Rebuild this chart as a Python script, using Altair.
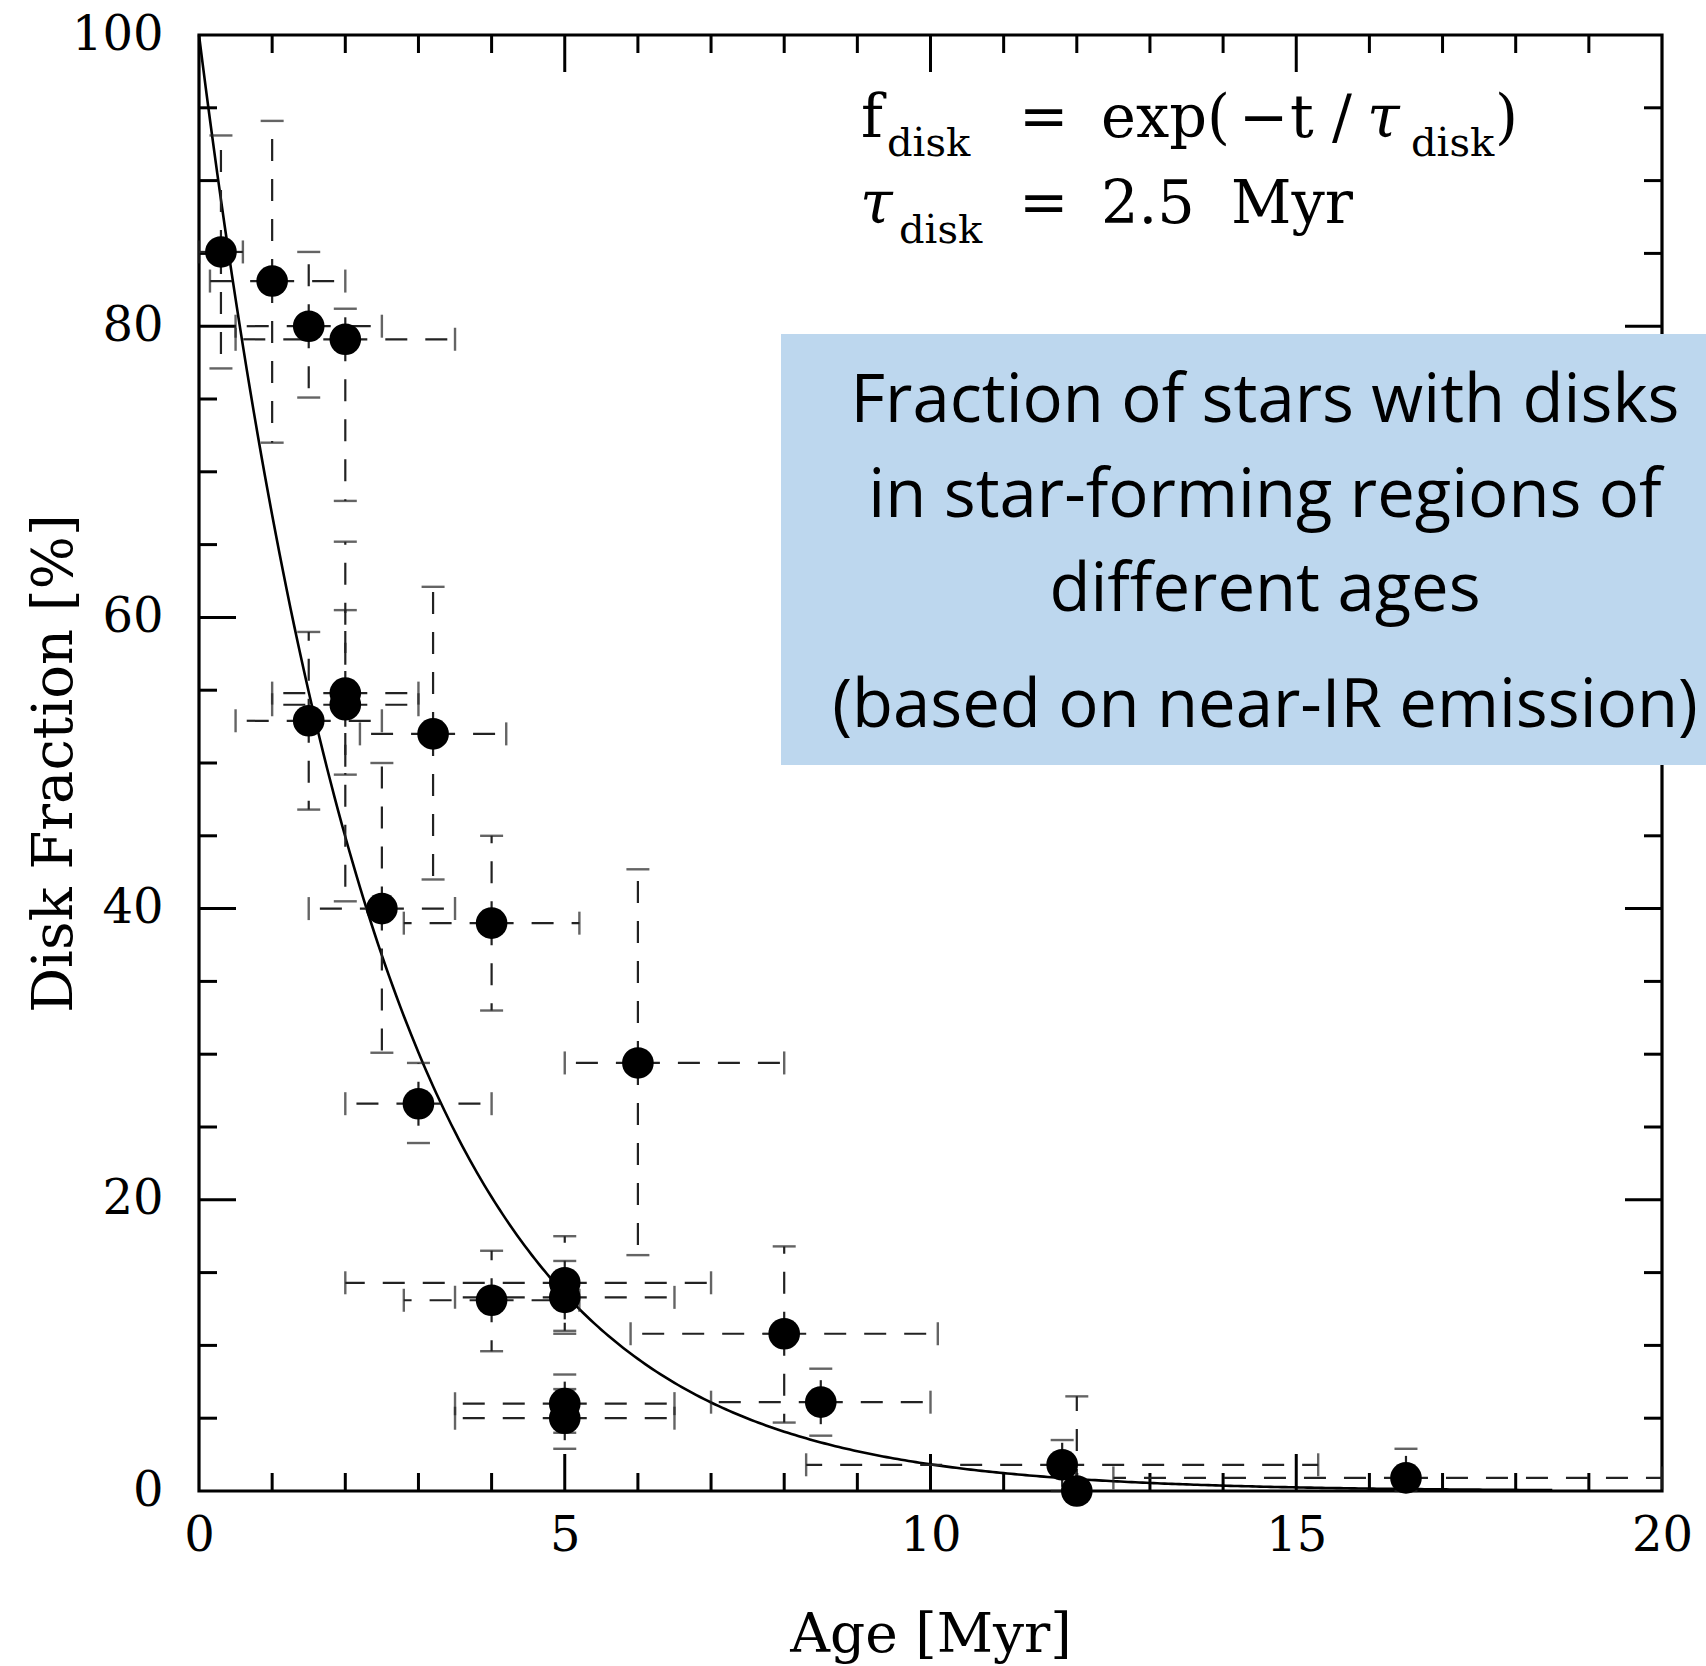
import altair as alt
import pandas as pd

# ---------------- data ----------------
ages    = [0.3, 1.0, 1.5, 2.0, 1.5, 2.0, 2.0, 3.2, 2.5, 4.0, 6.0, 3.0, 4.0, 5.0, 5.0, 8.0, 8.5, 5.0, 5.0, 11.8, 12.0, 16.5]
fracs   = [85.1, 83.1, 80.0, 79.1, 52.9, 54.8, 54.0, 52.0, 40.0, 39.0, 29.4, 26.6, 13.1, 14.3, 13.3, 10.8, 6.1, 6.0, 5.0, 1.8, 0.0, 0.9]
age_lo  = [0.0, 0.15, 0.5, 0.5, 0.5, 1.0, 1.0, 2.2, 1.5, 2.8, 5.0, 2.0, 2.8, 2.0, 3.5, 5.9, 7.0, 3.5, 3.5, 8.3, 12.0, 12.5]
age_hi  = [0.6, 2.0, 2.5, 3.5, 2.5, 3.0, 3.0, 4.2, 3.5, 5.2, 8.0, 4.0, 5.2, 7.0, 6.5, 10.1, 10.0, 6.5, 6.5, 15.3, 12.0, 20.0]
frac_lo = [77.1, 72.0, 75.1, 68.0, 46.8, 49.2, 40.5, 42.0, 30.1, 33.0, 16.2, 23.9, 9.6, 11.0, 10.8, 4.7, 3.8, 4.0, 2.9, 0.0, 0.0, 0.0]
frac_hi = [93.1, 94.1, 85.1, 81.2, 59.0, 60.5, 65.2, 62.1, 50.0, 45.0, 42.7, 29.4, 16.5, 17.5, 15.8, 16.8, 8.4, 8.0, 7.0, 3.5, 6.5, 2.9]

TAU_DISK = 2.5          # Myr, model f = 100 exp(-t/tau)
CURVE_END = 18.5        # Myr

x_labels = [0, 5, 10, 15, 20]
y_labels = [0, 20, 40, 60, 80, 100]
x_minor = [1, 2, 3, 4, 6, 7, 8, 9, 11, 12, 13, 14, 16, 17, 18, 19]
x_major = [5, 10, 15]
y_minor = [5, 10, 15, 25, 30, 35, 45, 50, 55, 65, 70, 75, 85, 90, 95]
y_major = [20, 40, 60, 80]

BOX_LINES = ["Fraction of stars with disks",
             "in star-forming regions of",
             "different ages",
             "(based on near-IR emission)"]

# ---------------- layout ----------------
W, H = 1463, 1456
SERIF = "DejaVu Serif"
SANS = "Open Sans"

df = pd.DataFrame(dict(age=ages, frac=fracs, age_lo=age_lo, age_hi=age_hi,
                       frac_lo=frac_lo, frac_hi=frac_hi))

xs = alt.Scale(domain=[0, 20], nice=False, zero=False)
ys = alt.Scale(domain=[0, 100], nice=False, zero=False)

xaxis = alt.Axis(values=x_labels, ticks=False, tickSize=0, domain=False, grid=False,
                 labelFont=SERIF, labelFontSize=48, labelColor="black", labelPadding=21,
                 labelFlush=False, labelOverlap=False,
                 titleFont=SERIF, titleFontSize=55, titleFontWeight="normal", titleColor="black",
                 titleY=160, titleBaseline="alphabetic")
yaxis = alt.Axis(values=y_labels, ticks=False, tickSize=0, domain=False, grid=False,
                 labelFont=SERIF, labelFontSize=48, labelColor="black", labelPadding=36,
                 labelFlush=False, labelOverlap=False,
                 titleFont=SERIF, titleFontSize=56, titleFontWeight="normal", titleColor="black",
                 titleAngle=270, titleX=-128, titleY=H / 2, titleAlign="center",
                 titleBaseline="alphabetic")


def X(field):
    return alt.X(field, type="quantitative", scale=xs, axis=xaxis, title="Age [Myr]")


def Y(field):
    return alt.Y(field, type="quantitative", scale=ys, axis=yaxis, title="Disk Fraction [%]")


one = pd.DataFrame({"k": [0]})
layers = []

# frame
layers.append(alt.Chart(one).mark_rect(filled=False, stroke="black", strokeWidth=3.2).encode(
    x=alt.value(0), x2=alt.value(W), y=alt.value(0), y2=alt.value(H)))

# inward ticks on all four sides
def xticks(vals, length):
    d = pd.DataFrame({"v": vals})
    bot = alt.Chart(d).mark_rule(color="black", strokeWidth=3).encode(
        x=X("v"), y=alt.value(H), y2=alt.value(H - length))
    top = alt.Chart(d).mark_rule(color="black", strokeWidth=3).encode(
        x=X("v"), y=alt.value(0), y2=alt.value(length))
    return [bot, top]


def yticks(vals, length):
    d = pd.DataFrame({"v": vals})
    left = alt.Chart(d).mark_rule(color="black", strokeWidth=3).encode(
        y=Y("v"), x=alt.value(0), x2=alt.value(length))
    right = alt.Chart(d).mark_rule(color="black", strokeWidth=3).encode(
        y=Y("v"), x=alt.value(W), x2=alt.value(W - length))
    return [left, right]


layers += xticks(x_minor, 18) + xticks(x_major, 37) + yticks(y_minor, 18) + yticks(y_major, 37)

# model curve
curve = (alt.Chart(alt.sequence(0, CURVE_END + 0.01, 0.05, as_="t"))
         .transform_calculate(f=f"100*exp(-datum.t/{TAU_DISK})")
         .mark_line(color="black", strokeWidth=2.6)
         .encode(x=X("t"), y=Y("f")))
layers.append(curve)

# dashed error bars, drawn outward from each point
base = alt.Chart(df)
dash = dict(color="#222222", strokeWidth=2.2, strokeDash=[22, 18])
layers.append(base.mark_rule(**dash).encode(x=X("age"), y=Y("frac"), y2="frac_hi"))
layers.append(base.mark_rule(**dash).encode(x=X("age"), y=Y("frac"), y2="frac_lo"))
layers.append(base.mark_rule(**dash).encode(x=X("age"), x2="age_hi", y=Y("frac")))
layers.append(base.mark_rule(**dash).encode(x=X("age"), x2="age_lo", y=Y("frac")))

# caps
cap = dict(color="#222222", thickness=2.4, size=23)
layers.append(base.mark_tick(orient="horizontal", **cap).encode(x=X("age"), y=Y("frac_hi")))
layers.append(base.mark_tick(orient="horizontal", **cap).encode(x=X("age"), y=Y("frac_lo")))
layers.append(base.mark_tick(orient="vertical", **cap).encode(x=X("age_hi"), y=Y("frac")))
layers.append(base.mark_tick(orient="vertical", **cap).encode(x=X("age_lo"), y=Y("frac")))

# data points
layers.append(base.mark_circle(color="black", opacity=1, size=1000).encode(x=X("age"), y=Y("frac")))

# blue annotation box (extends past the right frame)
layers.append(alt.Chart(one).mark_rect(color="#BDD7EE", opacity=1).encode(
    x=alt.value(582), x2=alt.value(1507), y=alt.value(299), y2=alt.value(730)))

box_baselines = [387, 482, 576, 692]
for line, yb in zip(BOX_LINES, box_baselines):
    layers.append(alt.Chart(one).mark_text(text=line, font=SANS, fontSize=67, color="#000000",
                                           align="center", baseline="alphabetic").encode(
        x=alt.value(1066), y=alt.value(yb)))


def txt(s, x, y, size, style="normal"):
    return alt.Chart(one).mark_text(text=s, font=SERIF, fontSize=size, color="black",
                                    fontStyle=style, align="left", baseline="alphabetic").encode(
        x=alt.value(x), y=alt.value(y))


MAIN, SUB = 59, 40
# formula line 1: f_disk = exp(-t/tau_disk)
layers += [txt("f", 662, 102, MAIN), txt("disk", 688, 121, SUB), txt("=", 820, 102, MAIN),
           txt("exp(", 902, 102, MAIN), txt("\u2212", 1040, 102, MAIN), txt("t", 1091, 102, MAIN),
           txt("/", 1133, 102, MAIN), txt("\u03c4", 1168, 102, MAIN, "italic"),
           txt("disk", 1212, 121, SUB), txt(")", 1296, 102, MAIN)]
# formula line 2: tau_disk = 2.5 Myr
layers += [txt("\u03c4", 661, 188, MAIN, "italic"), txt("disk", 700, 208, SUB),
           txt("=", 820, 188, MAIN), txt("2.5", 902, 188, MAIN), txt("Myr", 1032, 188, MAIN)]

chart = (alt.layer(*layers)
         .properties(width=W, height=H,
                     autosize=alt.AutoSizeParams(type="none"),
                     padding={"left": 199, "top": 35, "right": 44, "bottom": 175},
                     background="white")
         .configure_view(stroke=None))

chart.save("out.html", embed_options={"renderer": "svg", "actions": False})
